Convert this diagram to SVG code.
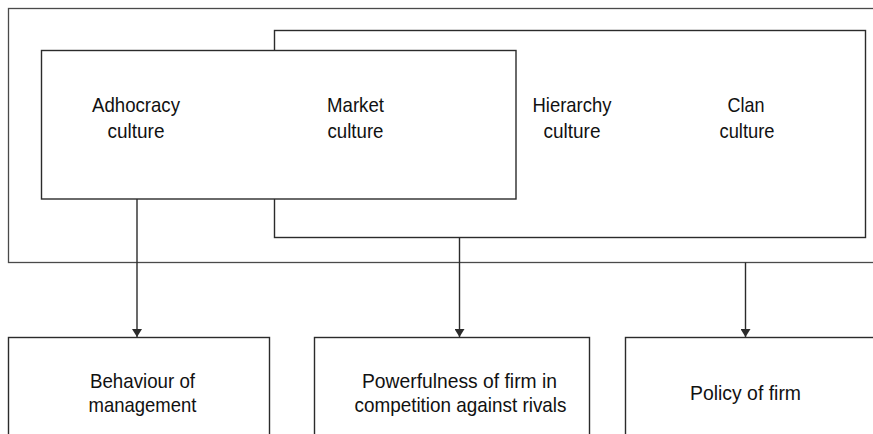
<svg xmlns="http://www.w3.org/2000/svg" width="873" height="434" viewBox="0 0 873 434">
  <style>
    .frame { fill: #ffffff; stroke: #2b2b2b; stroke-width: 1.4; }
    .outer { fill: none; stroke: #4a4a4a; stroke-width: 1.3; }
    .link { stroke: #2b2b2b; stroke-width: 1.4; fill: none; marker-end: url(#arrow); }
    text { font-family: "Liberation Sans", Arial, sans-serif; font-size: 21px; fill: #111111; text-anchor: middle; }
  </style>
  <defs>
    <marker id="arrow" viewBox="0 0 8 10" refX="8" refY="5" markerWidth="8" markerHeight="10" markerUnits="userSpaceOnUse" orient="auto">
      <path d="M0,0 L8,5 L0,10 Z" fill="#2b2b2b"/>
    </marker>
  </defs>

  <!-- enclosing frame around all four cultures -->
  <g id="culture-frame">
    <rect class="outer" x="8.5" y="8.5" width="880" height="254"/>
  </g>

  <!-- second culture panel (Hierarchy / Clan), partly behind the first -->
  <g id="panel-hierarchy-clan">
    <rect class="frame" x="274.5" y="30.5" width="591" height="207"/>
    <text x="572" y="111.5" textLength="79" lengthAdjust="spacingAndGlyphs">Hierarchy</text>
    <text x="572" y="137.5" textLength="57" lengthAdjust="spacingAndGlyphs">culture</text>
    <text x="746" y="111.5" textLength="37" lengthAdjust="spacingAndGlyphs">Clan</text>
    <text x="747" y="137.5" textLength="55" lengthAdjust="spacingAndGlyphs">culture</text>
  </g>

  <!-- first culture panel (Adhocracy / Market) -->
  <g id="panel-adhocracy-market">
    <rect class="frame" x="41.5" y="50.5" width="474.5" height="148.5"/>
    <text x="136" y="111.5" textLength="88" lengthAdjust="spacingAndGlyphs">Adhocracy</text>
    <text x="136" y="137.5" textLength="57" lengthAdjust="spacingAndGlyphs">culture</text>
    <text x="355.5" y="111.5" textLength="57" lengthAdjust="spacingAndGlyphs">Market</text>
    <text x="355.5" y="137.5" textLength="56" lengthAdjust="spacingAndGlyphs">culture</text>
  </g>

  <!-- outcomes -->
  <g id="behaviour">
    <rect class="frame" x="8.5" y="337.5" width="261" height="110"/>
    <text x="142.5" y="388" textLength="105" lengthAdjust="spacingAndGlyphs">Behaviour of</text>
    <text x="142.5" y="412" textLength="108" lengthAdjust="spacingAndGlyphs">management</text>
  </g>
  <g id="powerfulness">
    <rect class="frame" x="314.5" y="337.5" width="275" height="110"/>
    <text x="459.5" y="388" textLength="195" lengthAdjust="spacingAndGlyphs">Powerfulness of firm in</text>
    <text x="460.5" y="412" textLength="212" lengthAdjust="spacingAndGlyphs">competition against rivals</text>
  </g>
  <g id="policy">
    <rect class="frame" x="625.5" y="337.5" width="260" height="110"/>
    <text x="745.5" y="400" textLength="111" lengthAdjust="spacingAndGlyphs">Policy of firm</text>
  </g>

  <!-- connectors -->
  <g id="connectors">
    <line class="link" x1="137" y1="199" x2="137" y2="337"/>
    <line class="link" x1="459.5" y1="237.5" x2="459.5" y2="337"/>
    <line class="link" x1="745.5" y1="262.5" x2="745.5" y2="337"/>
  </g>
</svg>
